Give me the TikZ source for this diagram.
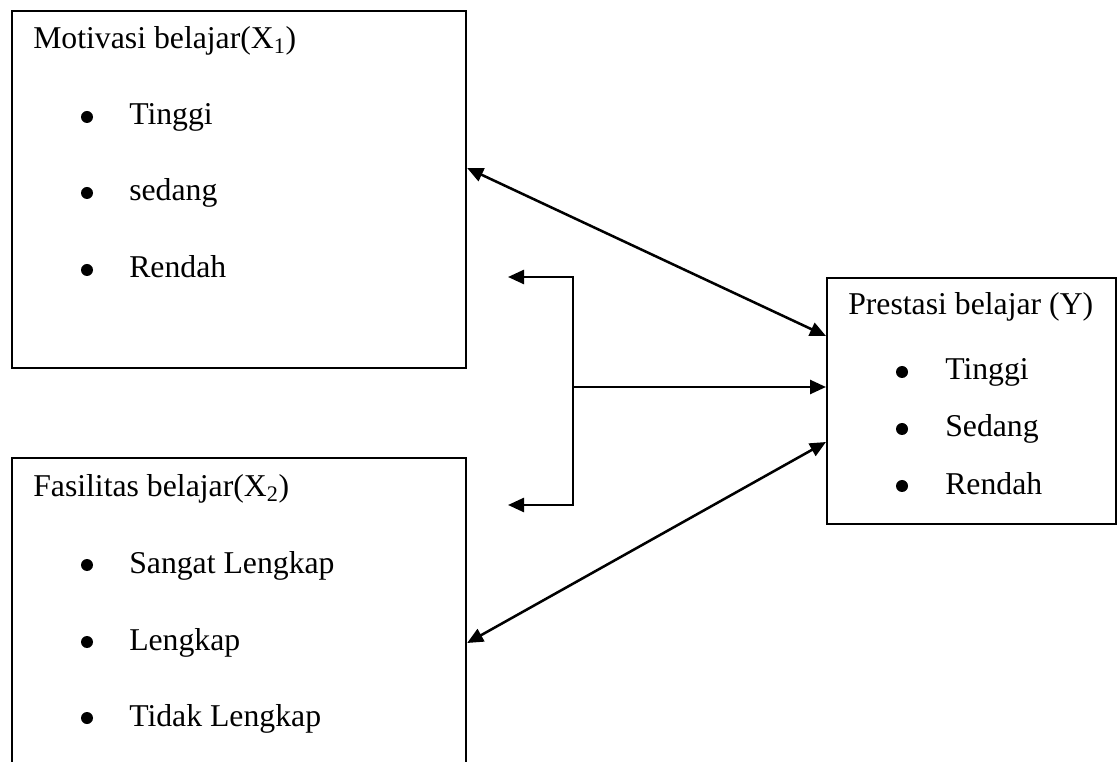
\documentclass[tikz,border=0pt]{standalone}
\usepackage{fontspec}
\setmainfont{Liberation Serif}
\usetikzlibrary{arrows.meta,calc}
\tikzset{
    box/.style={rectangle,draw=black,line width=1.6pt, inner sep=0, anchor=north west},
    txt/.style={inner sep=0, anchor=base west, font=\fontsize{23.8}{28}\selectfont},
    dot/.style={circle,fill=black, minimum size=9pt, inner sep=0},
    link/.style={line width=1.9pt, {Triangle[length=12pt,width=10.5pt]}-{Triangle[length=12pt,width=10.5pt]}},
    onearrow/.style={line width=1.9pt, -{Triangle[length=12pt,width=10.5pt]}}
}

\begin{document}
\begin{tikzpicture}[x=0.75pt,y=-0.75pt]
    \useasboundingbox (0,0) rectangle (1117,762);
    % boxes
    \node[box, minimum width=340.5pt, minimum height=267.75pt] (motivasi) at (11,10) {};
    \node[box, minimum width=340.5pt, minimum height=247.5pt] (fasilitas) at (11,457) {};
    \node[box, minimum width=216.75pt, minimum height=184.5pt] (prestasi) at (826,277) {};

    % texts
    \node[txt] (motivasi-title) at (33,49) {Motivasi belajar(X\textsubscript{1})};
    \foreach \y/\t in {125/Tinggi, 201/sedang, 278/Rendah} {
        \node[dot] (m-dot-\y) at (87,{\y-8}) {};
        \node[txt] (m-item-\y) at (129,\y) {\t};
    }
    \node[txt] (fasilitas-title) at (33,497) {Fasilitas belajar(X\textsubscript{2})};
    \foreach \y/\t in {573/Sangat Lengkap, 650/Lengkap, 726/Tidak Lengkap} {
        \node[dot] (f-dot-\y) at (87,{\y-8}) {};
        \node[txt] (f-item-\y) at (129,\y) {\t};
    }
    \node[txt] (prestasi-title) at (848,315) {Prestasi belajar (Y)};
    \foreach \y/\t in {380/Tinggi, 437/Sedang, 494/Rendah} {
        \node[dot] (p-dot-\y) at (902,{\y-8}) {};
        \node[txt] (p-item-\y) at (945,\y) {\t};
    }

    % connectors
    \draw[link] ($(motivasi.north east)+(0,158)$) -- ($(prestasi.north west)+(0,59)$);
    \draw[link] ($(fasilitas.north east)+(0,186)$) -- ($(prestasi.north west)+(0,165)$);

    \coordinate (fork) at (573,387);
    \coordinate (fork-top) at (573,277);
    \coordinate (fork-bot) at (573,505);
    \coordinate (tip-top) at (508,277);
    \coordinate (tip-bot) at (508,505);
    \draw[link] (tip-top) -- (fork-top) -- (fork-bot) -- (tip-bot);
    \draw[onearrow] (fork) -- ($(prestasi.north west)+(0,110)$);
\end{tikzpicture}
\end{document}
